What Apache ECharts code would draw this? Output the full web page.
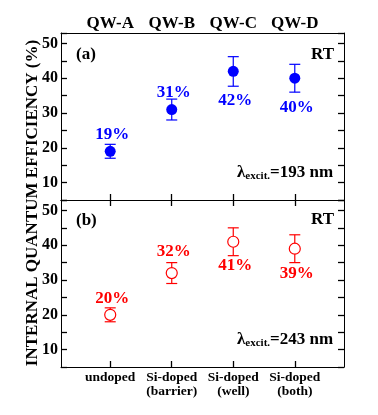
<!DOCTYPE html>
<html><head><meta charset="utf-8">
<script src="https://cdn.jsdelivr.net/npm/echarts@6/dist/echarts.min.js"></script>
<style>html,body{margin:0;padding:0;background:#fff}#c{width:378px;height:415px}</style>
</head><body><div id="c"></div><script>
// ---- data ----
const categories = ['undoped', 'Si-doped\n(barrier)', 'Si-doped\n(well)', 'Si-doped\n(both)'];
const wellNames = ['QW-A', 'QW-B', 'QW-C', 'QW-D'];
const positions = [1, 2, 3, 4];
const iqe193 = [19, 31, 42, 40];
const err193Low = [17, 28, 37.7, 36];
const err193High = [21, 34, 46.2, 44];
const iqe243 = [20, 32, 41, 39];
const err243Low = [18, 29, 37, 35];
const err243High = [22, 35, 45, 43];
const yTickLabels = [10, 20, 30, 40, 50];

// ---- layout (label offsets relative to marker centre) ----
const labelDy193 = [-17, -17, 29, 29];
const labelDy243 = [-16, -21, 24, 25];

const FONT = '"Liberation Serif", "Times New Roman", serif';
const BLUE = '#0000ff', RED = '#ff0000';

function xAxisBase(grid, pos) {
  return {
    type: 'value', gridIndex: grid, position: pos, min: 0.2, max: 4.8,
    axisLine: {show: true, onZero: false, lineStyle: {color: '#000', width: 1}},
    axisTick: {show: true, inside: true, length: 6, customValues: positions, lineStyle: {color: '#000', width: 1.3}},
    axisLabel: {show: false},
    splitLine: {show: false}
  };
}
function yAxisBase(grid, pos, labels) {
  return {
    type: 'value', gridIndex: grid, position: pos, min: 5, max: 53, interval: 5,
    axisLine: {show: true, onZero: false, lineStyle: {color: '#000', width: 1}},
    axisTick: {show: true, inside: true, length: 6, lineStyle: {color: '#000', width: 1.3}},
    axisLabel: labels ? {show: true, customValues: yTickLabels, margin: 3, color: '#000',
      fontFamily: FONT, fontWeight: 'bold', fontSize: 16} : {show: false},
    splitLine: {show: false}
  };
}

const xTop0 = xAxisBase(0, 'top');
xTop0.axisTick = {show: false};
xTop0.axisLabel = {show: true, customValues: positions, margin: 1, color: '#000',
  fontFamily: FONT, fontWeight: 'bold', fontSize: 17,
  formatter: v => wellNames[Math.round(v) - 1] || ''};
const xBottom1 = xAxisBase(1, 'bottom');
xBottom1.axisLabel = {show: true, customValues: positions, margin: 4, color: '#000',
  fontFamily: FONT, fontWeight: 'bold', fontSize: 13.5, lineHeight: 14,
  formatter: v => categories[Math.round(v) - 1] || ''};

function errSeries(xi, yi, lo, hi, color) {
  return {
    type: 'custom', xAxisIndex: xi, yAxisIndex: yi, z: 2, silent: true,
    data: positions.map((p, i) => [p, lo[i], hi[i]]),
    encode: {x: 0, y: [1, 2]},
    renderItem: (params, api) => {
      const x = api.value(0);
      const a = api.coord([x, api.value(1)]);
      const b = api.coord([x, api.value(2)]);
      const w = 5.5;
      const st = {stroke: color, lineWidth: 1.2, fill: null};
      return {type: 'group', children: [
        {type: 'line', shape: {x1: a[0], y1: a[1], x2: b[0], y2: b[1]}, style: st},
        {type: 'line', shape: {x1: a[0] - w, y1: a[1], x2: a[0] + w, y2: a[1]}, style: st},
        {type: 'line', shape: {x1: b[0] - w, y1: b[1], x2: b[0] + w, y2: b[1]}, style: st}
      ]};
    }
  };
}
function pointSeries(xi, yi, vals, dys, color, filled) {
  return {
    type: 'scatter', xAxisIndex: xi, yAxisIndex: yi, z: 3,
    symbol: 'circle', symbolSize: 11,
    itemStyle: {color: filled ? color : '#fff', borderColor: color, borderWidth: filled ? 0 : 1.2, opacity: 1},
    data: positions.map((p, i) => ({value: [p, vals[i]],
      label: {show: true, position: 'inside', offset: [2, dys[i]]}})),
    label: {show: true, formatter: p => p.value[1] + '%', color: color,
      fontFamily: FONT, fontWeight: 'bold', fontSize: 17},
    emphasis: {disabled: true}
  };
}

const txt = (x, y, text, align, extra) => Object.assign({
  type: 'text', x: x, y: y,
  style: {text: text, align: align || 'left', verticalAlign: 'middle',
    font: 'bold 17px ' + FONT, fill: '#000'}
}, extra || {});

function lambdaText(x, y, nm) {
  return {
    type: 'text', x: x, y: y,
    style: {
      text: '{l|λ}{s|excit.}{n|=' + nm + ' nm}', align: 'left', verticalAlign: 'middle',
      fill: '#000',
      rich: {
        l: {fontFamily: FONT, fontSize: 17, fontWeight: 'bold', fill: '#000'},
        s: {fontFamily: FONT, fontSize: 11, fontWeight: 'bold', fill: '#000', verticalAlign: 'bottom'},
        n: {fontFamily: FONT, fontSize: 17, fontWeight: 'bold', fill: '#000'}
      }
    }
  };
}

const option = {
  animation: false,
  backgroundColor: '#fff',
  grid: [
    {left: 61, top: 33, width: 283, height: 167, show: false},
    {left: 61, top: 200, width: 283, height: 167, show: false}
  ],
  xAxis: [xAxisBase(0, 'bottom'), xTop0, xBottom1, xAxisBase(1, 'top')],
  yAxis: [yAxisBase(0, 'left', true), yAxisBase(0, 'right', false),
          yAxisBase(1, 'left', true), yAxisBase(1, 'right', false)],
  series: [
    errSeries(0, 0, err193Low, err193High, BLUE),
    pointSeries(0, 0, iqe193, labelDy193, BLUE, true),
    errSeries(2, 2, err243Low, err243High, RED),
    pointSeries(2, 2, iqe243, labelDy243, RED, false)
  ],
  graphic: [
    txt(76, 55, '(a)'),
    txt(334, 55, 'RT', 'right'),
    txt(76, 221, '(b)'),
    txt(334, 220, 'RT', 'right'),
    lambdaText(237, 173, '193'),
    lambdaText(237, 340, '243'),
    txt(33, 203, 'INTERNAL QUANTUM EFFICIENCY (%)', 'center', {rotation: Math.PI / 2})
  ]
};
const chart = echarts.init(document.getElementById('c'), null, {renderer: 'canvas'});
chart.setOption(option);
</script></body></html>
